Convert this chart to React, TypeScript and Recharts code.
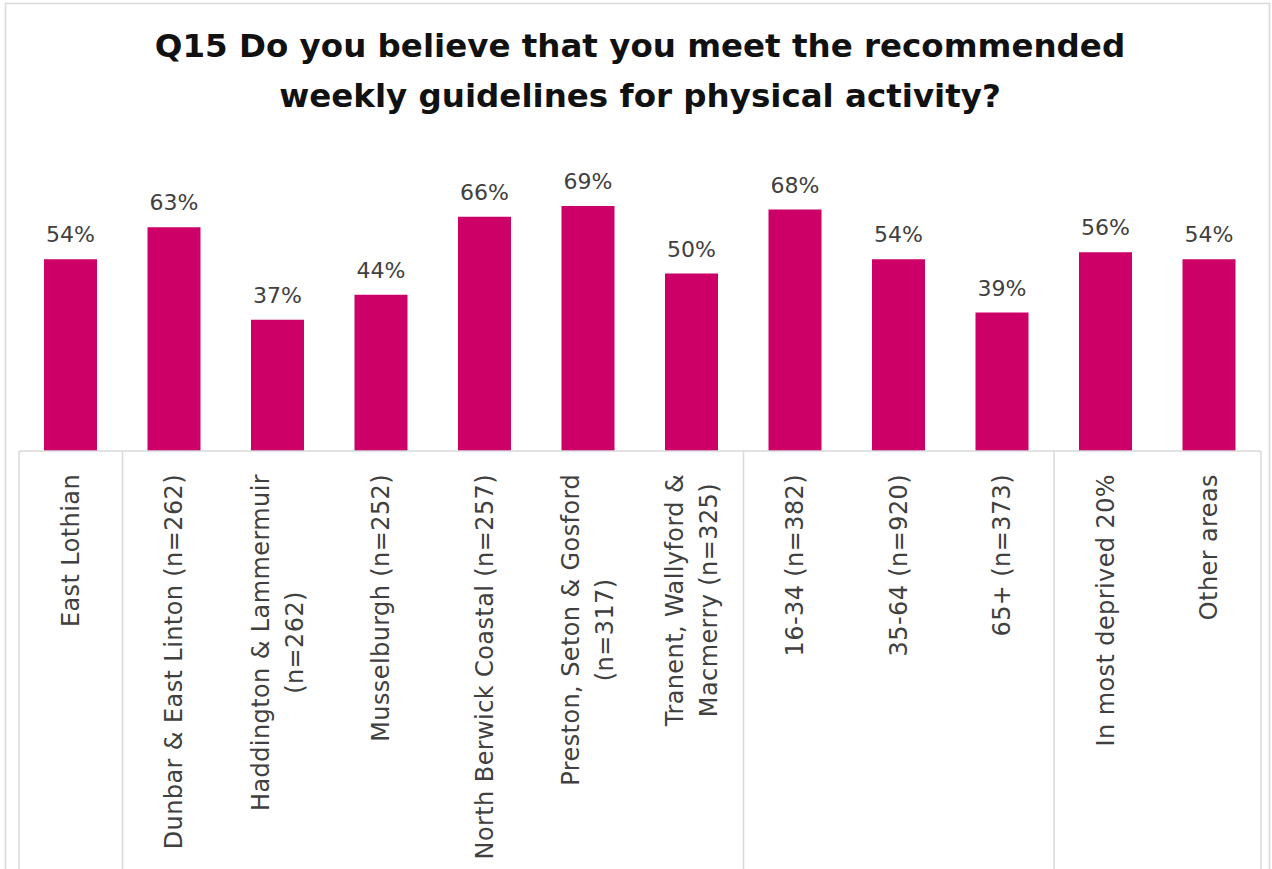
import { Bar, BarChart, LabelList, XAxis, YAxis } from "recharts";

const CATEGORIES = [
  "East Lothian",
  "Dunbar & East Linton (n=262)",
  "Haddington & Lammermuir\n(n=262)",
  "Musselburgh (n=252)",
  "North Berwick Coastal (n=257)",
  "Preston, Seton & Gosford\n(n=317)",
  "Tranent, Wallyford &\nMacmerry (n=325)",
  "16-34 (n=382)",
  "35-64 (n=920)",
  "65+ (n=373)",
  "In most deprived 20%",
  "Other areas",
];

const VALUES = [54, 63, 37, 44, 66, 69, 50, 68, 54, 39, 56, 54];

// sizes of the category groups, separated by vertical rules under the axis
const GROUP_SIZES = [1, 6, 3, 2];

const TITLE = [
  "Q15 Do you believe that you meet the recommended",
  "weekly guidelines for physical activity?",
];

const W = 1272;
const H = 869;
const MARGIN = { top: 167, right: 11, bottom: 0, left: 19 };
const AXIS_H = 418;
const BAND = (W - MARGIN.left - MARGIN.right) / CATEGORIES.length;
const FONT = '"DejaVu Sans", sans-serif';
const TICK_SIZE = 24;
const TICK_SPACING = 0.4;
const LINE_H = 34;

const groupStarts = new Set<number>();
GROUP_SIZES.reduce((start, n) => {
  groupStarts.add(start);
  return start + n;
}, 0);

let ctx: CanvasRenderingContext2D | null = null;
function measure(text: string) {
  if (!ctx) ctx = document.createElement("canvas").getContext("2d");
  if (!ctx) return text.length * TICK_SIZE * 0.58;
  ctx.font = `${TICK_SIZE}px "DejaVu Sans"`;
  return ctx.measureText(text).width + text.length * TICK_SPACING;
}

function CategoryTick(props: any) {
  const { x, y, payload } = props;
  const idx: number = payload.index;
  const lines = String(payload.value).split("\n");
  const longest = Math.max(...lines.map(measure));
  const mid = (lines.length - 1) / 2;
  return (
    <g>
      {groupStarts.has(idx) && (
        <line x1={x - BAND / 2} x2={x - BAND / 2} y1={y} y2={y + AXIS_H} stroke="#d9d9d9" strokeWidth={1.5} />
      )}
      {idx === CATEGORIES.length - 1 && (
        <line x1={x + BAND / 2} x2={x + BAND / 2} y1={y} y2={y + AXIS_H} stroke="#d9d9d9" strokeWidth={1.5} />
      )}
      <g transform={`translate(${x},${y + 23}) rotate(-90)`}>
        {lines.map((line, i) => (
          <text
            key={i}
            x={-longest / 2}
            y={(i - mid) * LINE_H}
            textAnchor="middle"
            dominantBaseline="central"
            fill="#404040"
            fontSize={TICK_SIZE}
            letterSpacing={TICK_SPACING}
            fontFamily={FONT}
          >
            {line}
          </text>
        ))}
      </g>
    </g>
  );
}

export default function App() {
  const data = CATEGORIES.map((name, i) => ({ name, value: VALUES[i] }));

  return (
    <div style={{ position: "absolute", left: 0, top: 0, width: W, height: H, background: "#fff", overflow: "hidden" }}>
      <BarChart width={W} height={H} data={data} margin={MARGIN}>
        <XAxis
          dataKey="name"
          height={AXIS_H}
          interval={0}
          tickSize={0}
          tickMargin={0}
          tickLine={false}
          axisLine={{ stroke: "#d9d9d9", strokeWidth: 1.5 }}
          tick={(p: any) => <CategoryTick {...p} />}
        />
        <YAxis hide domain={[0, 80]} />
        <Bar dataKey="value" fill="#cc0066" barSize={53} isAnimationActive={false}>
          <LabelList
            dataKey="value"
            position="top"
            offset={17}
            formatter={(v: any) => `${v}%`}
            fill="#404040"
            fontSize={22}
            fontFamily={FONT}
          />
        </Bar>
      </BarChart>
      <svg width={W} height={H} style={{ position: "absolute", left: 0, top: 0, pointerEvents: "none" }}>
        <rect x={5.5} y={3.5} width={1264} height={H + 20} fill="none" stroke="#d9d9d9" strokeWidth={1.5} />
        {TITLE.map((t, i) => (
          <text
            key={i}
            x={640}
            y={57 + i * 50}
            textAnchor="middle"
            fill="#111"
            fontSize={32.5}
            fontWeight="bold"
            fontFamily={FONT}
          >
            {t}
          </text>
        ))}
      </svg>
    </div>
  );
}
